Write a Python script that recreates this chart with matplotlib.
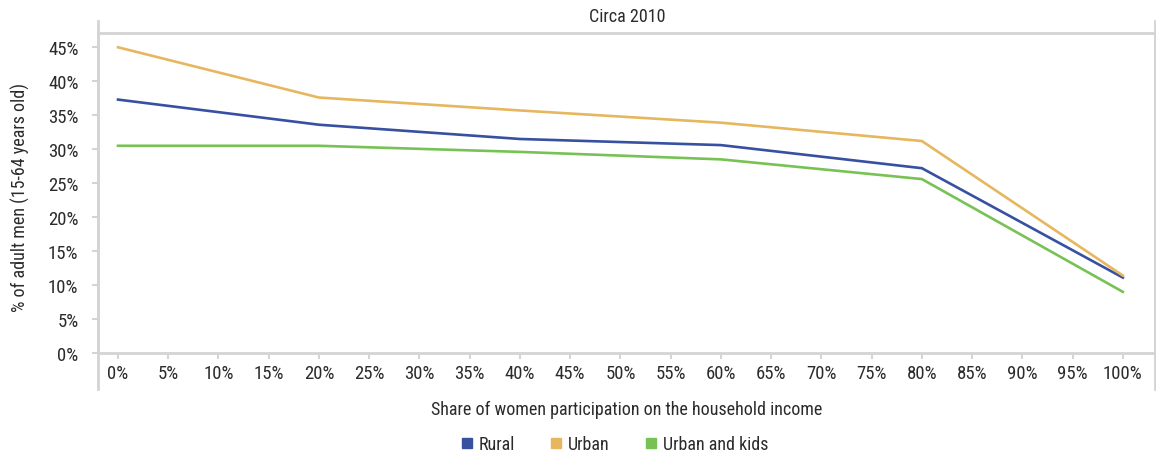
import matplotlib
matplotlib.use("Agg")
import matplotlib.pyplot as plt
from matplotlib.lines import Line2D
import numpy as np

plt.rcParams['font.family'] = ['Roboto Condensed', 'Liberation Sans', 'DejaVu Sans']

# share of women participation (categories)
share_labels = ["%d%%" % v for v in range(0, 101, 5)]
data_pos = [0, 4, 8, 12, 16, 20]   # 0%, 20%, 40%, 60%, 80%, 100%
rural = [37.3, 33.6, 31.5, 30.6, 27.2, 11.1]
urban = [45.0, 37.6, 35.7, 33.9, 31.2, 11.4]
urban_kids = [30.5, 30.5, 29.6, 28.5, 25.6, 9.0]

c_rural = "#3750A0"
c_urban = "#E6B75F"
c_kids = "#78C255"
grid_c = "#D4D4D4"
txt_c = "#2B2B2B"

fig = plt.figure(figsize=(11.56, 4.6), dpi=100)
ax = fig.add_axes([98/1156, 1-354/460, (1155-98)/1156, (354-34)/460])

ax.plot(data_pos, rural, color=c_rural, lw=1.9, label="Rural")
ax.plot(data_pos, urban, color=c_urban, lw=1.9, label="Urban")
ax.plot(data_pos, urban_kids, color=c_kids, lw=1.9, label="Urban and kids")

ax.set_xlim(-0.398, 20.64)
ax.set_ylim(0, 47.1)
ax.set_yticks(np.arange(0, 46, 5))
ax.set_yticklabels(["%d%%" % v for v in range(0, 46, 5)])
ax.set_xticks(range(21))
ax.set_xticklabels(share_labels)

for s in ax.spines.values():
    s.set_color(grid_c)
    s.set_linewidth(2)
ax.tick_params(axis='both', colors=grid_c, labelcolor=txt_c, labelsize=13.5, width=1.5)
ax.tick_params(axis='y', length=4, pad=10)
ax.tick_params(axis='x', length=4, pad=4)

# vertical lines extending above and below the plot box
for xp in (98, 1155):
    fig.add_artist(Line2D([xp/1156, xp/1156], [1-22/460, 1-390/460],
                          color=grid_c, lw=2, transform=fig.transFigure))

fig.text(627/1156, 1-17/460, "Circa 2010", ha='center', va='center', fontsize=13, color=txt_c)
fig.text(20/1156, 1-198/460, "% of adult men (15-64 years old)", rotation=90,
         ha='center', va='center', fontsize=13, color=txt_c)
fig.text(627/1156, 1-410/460, "Share of women participation on the household income",
         ha='center', va='center', fontsize=13, color=txt_c)

handles = [Line2D([], [], marker='s', ls='', color=c, markersize=7.5)
           for c in (c_rural, c_urban, c_kids)]
fig.legend(handles, ["Rural", "Urban", "Urban and kids"], loc='center',
           bbox_to_anchor=(614/1156, 1-445/460), ncol=3, frameon=False,
           fontsize=13, handletextpad=0.25, columnspacing=1.9, labelcolor=txt_c,
           handlelength=0.8)

fig.savefig("out.png", dpi=100)
